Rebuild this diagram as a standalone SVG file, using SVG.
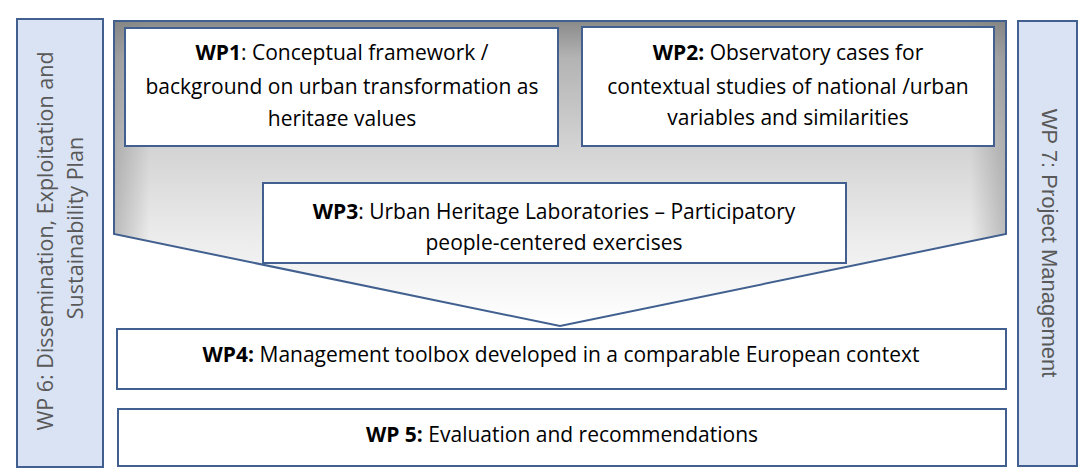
<svg xmlns="http://www.w3.org/2000/svg" width="1088" height="472" viewBox="0 0 1088 472">
  <style>
    .box { fill: #ffffff; stroke: #41608f; stroke-width: 2; }
    .side { fill: #dae3f3; stroke: #41608f; stroke-width: 2; }
    .t { font-family: "Open Sans", "Noto Sans", sans-serif; font-size: 21px; fill: #000000; text-anchor: middle; }
    .b { font-weight: bold; }
    .st { font-family: "Open Sans", "Noto Sans", sans-serif; font-size: 21.5px; fill: #595959; text-anchor: middle; }
    .rt { font-family: "Liberation Sans", Arial, sans-serif; font-size: 22px; fill: #595959; text-anchor: middle; }
  </style>
  <defs>
    <linearGradient id="gv" x1="0" y1="21" x2="0" y2="326" gradientUnits="userSpaceOnUse">
      <stop offset="0" stop-color="#8a8a8a"/>
      <stop offset="0.12" stop-color="#b3b3b3"/>
      <stop offset="0.4" stop-color="#d2d2d2"/>
      <stop offset="0.7" stop-color="#ebebeb"/>
      <stop offset="1" stop-color="#ffffff"/>
    </linearGradient>
    <linearGradient id="gh" x1="114" y1="0" x2="1006" y2="0" gradientUnits="userSpaceOnUse">
      <stop offset="0" stop-color="#7f7f7f" stop-opacity="0.45"/>
      <stop offset="0.04" stop-color="#7f7f7f" stop-opacity="0"/>
      <stop offset="0.96" stop-color="#7f7f7f" stop-opacity="0"/>
      <stop offset="1" stop-color="#7f7f7f" stop-opacity="0.45"/>
    </linearGradient>
    <clipPath id="clip1">
      <rect x="125" y="28" width="433" height="98"/>
    </clipPath>
  </defs>

  <g id="wp6">
    <rect class="side" x="17" y="19" width="86" height="448"/>
    <g transform="translate(0,241) rotate(-90)">
      <text class="st" x="0" y="53">WP 6: Dissemination, Exploitation and</text>
    </g>
    <g transform="translate(0,228) rotate(-90)">
      <text class="st" x="0" y="83">Sustainability Plan</text>
    </g>
  </g>

  <g id="wp7">
    <rect class="side" x="1018" y="21" width="59" height="445"/>
    <g transform="translate(1042,243) rotate(90)">
      <text class="rt" x="0" y="0">WP 7: Project Management</text>
    </g>
  </g>

  <g id="chevron">
    <polygon points="114,21 1006,21 1006,234 560,326 114,234" fill="url(#gv)"/>
    <polygon points="114,21 1006,21 1006,234 560,326 114,234" fill="url(#gh)" stroke="#41608f" stroke-width="2" stroke-linejoin="miter"/>
  </g>

  <g id="wp1">
    <rect class="box" x="125" y="28" width="433" height="118"/>
    <g clip-path="url(#clip1)">
      <text class="t" x="342" y="60"><tspan class="b">WP1</tspan>: Conceptual framework /</text>
      <text class="t" x="342" y="94">background on urban transformation as</text>
      <text class="t" x="342" y="126">heritage values</text>
    </g>
  </g>

  <g id="wp2">
    <rect class="box" x="582" y="27" width="412" height="119"/>
    <text class="t" x="788" y="60"><tspan class="b">WP2:</tspan> Observatory cases for</text>
    <text class="t" x="788" y="94">contextual studies of national /urban</text>
    <text class="t" x="788" y="125">variables and similarities</text>
  </g>

  <g id="wp3">
    <rect class="box" x="263" y="183" width="583" height="80"/>
    <text class="t" x="554" y="219"><tspan class="b">WP3</tspan>: Urban Heritage Laboratories – Participatory</text>
    <text class="t" x="554" y="250">people-centered exercises</text>
  </g>

  <g id="wp4">
    <rect class="box" x="117" y="329" width="889" height="60"/>
    <text class="t" x="561" y="362"><tspan class="b">WP4:</tspan> Management toolbox developed in a comparable European context</text>
  </g>

  <g id="wp5">
    <rect class="box" x="118" y="409" width="888" height="57"/>
    <text class="t" x="562" y="442"><tspan class="b">WP 5:</tspan> Evaluation and recommendations</text>
  </g>

  <g id="connectors"></g>
</svg>
